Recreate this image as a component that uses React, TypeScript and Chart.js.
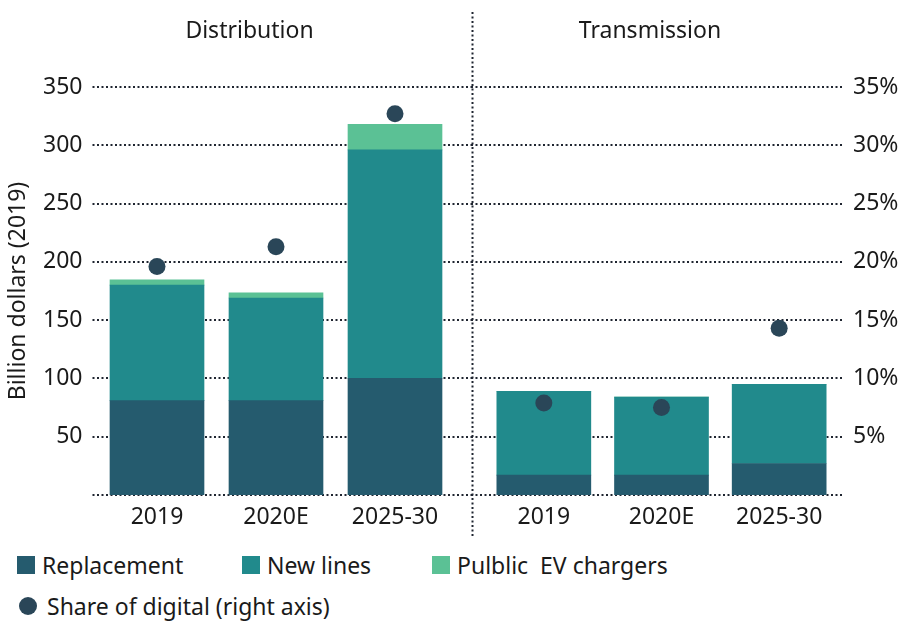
import React, { useEffect, useRef } from 'react';
import { Chart, registerables } from 'chart.js';

Chart.register(...registerables);

// ---------- data ----------
const categories = ['2019', '2020E', '2025-30'];
const groupTitles = ['Distribution', 'Transmission'];

const distReplacement = [81, 81, 100];
const distNewLines = [99, 88, 196];
const distEV = [4.5, 4.5, 22];
const distDigital = [19.6, 21.3, 32.7];

const transReplacement = [17, 17, 27];
const transNewLines = [72, 67, 68];
const transEV = [0, 0, 0];
const transDigital = [7.9, 7.5, 14.3];

const leftAxisMax = 350;
const leftAxisStep = 50;
const rightAxisMax = 35;
const rightAxisStep = 5;

const seriesLabels = ['Replacement', 'New lines', 'Pulblic  EV chargers', 'Share of digital (right axis)'];
const yAxisTitle = 'Billion dollars (2019)';

// ---------- styles ----------
const C_REPL = '#255b6e';
const C_NEW = '#218a8c';
const C_EV = '#5bc195';
const C_DOT = '#2a4658';
const TEXT = '#1a1a1a';
const GRID = '#1f2530';
const FONT = '"Noto Sans", "Open Sans", sans-serif';
const FS = 23;

const dotGridPlugin = {
  id: 'dotGrid',
  beforeDatasetsDraw(chart: any, _args: any, opts: any) {
    if (!opts || !opts.axis) return;
    const scale = chart.scales[opts.axis];
    const { ctx, chartArea } = chart;
    const x0 = opts.side === 'left' ? chartArea.left - 5 : 0;
    const x1 = opts.side === 'left' ? chart.width : chartArea.right + 5;
    ctx.save();
    ctx.strokeStyle = GRID;
    ctx.lineWidth = 2;
    ctx.setLineDash([2, 2.5]);
    scale.ticks.forEach((t: any) => {
      const y = Math.round(scale.getPixelForValue(t.value));
      ctx.beginPath();
      ctx.moveTo(x0, y);
      ctx.lineTo(x1, y);
      ctx.stroke();
    });
    if (opts.side === 'right') {
      ctx.beginPath();
      ctx.moveTo(1.5, 12);
      ctx.lineTo(1.5, chart.height - 7);
      ctx.stroke();
    }
    ctx.restore();
  },
};

const groupTitlePlugin = {
  id: 'groupTitle',
  afterDraw(chart: any, _args: any, opts: any) {
    if (!opts || !opts.text) return;
    const { ctx } = chart;
    ctx.save();
    ctx.font = `${FS}px ${FONT}`;
    ctx.fillStyle = TEXT;
    ctx.textAlign = 'center';
    ctx.textBaseline = 'middle';
    ctx.fillText(opts.text, opts.x, opts.y);
    ctx.restore();
  },
};

function makeDatasets(repl: number[], nl: number[], ev: number[], dig: number[]) {
  return [
    {
      type: 'line',
      label: seriesLabels[3],
      data: dig,
      yAxisID: 'y1',
      showLine: false,
      pointRadius: 8.5,
      pointHoverRadius: 8.5,
      pointBackgroundColor: C_DOT,
      pointBorderWidth: 0,
      order: 0,
    },
    { type: 'bar', label: seriesLabels[0], data: repl, backgroundColor: C_REPL, yAxisID: 'y', barThickness: 94, order: 1 },
    { type: 'bar', label: seriesLabels[1], data: nl, backgroundColor: C_NEW, yAxisID: 'y', barThickness: 94, order: 1 },
    { type: 'bar', label: seriesLabels[2], data: ev, backgroundColor: C_EV, yAxisID: 'y', barThickness: 94, order: 1 },
  ];
}

const xScale = {
  type: 'category',
  stacked: true,
  grid: { display: false, drawTicks: false },
  border: { display: false },
  ticks: { font: { family: FONT, size: FS }, color: TEXT, padding: 9, maxRotation: 0, minRotation: 0, autoSkip: false },
  afterFit: (s: any) => { s.height = 50; },
};

function ChartPanel({ side }: { side: 'left' | 'right' }) {
  const ref = useRef<HTMLCanvasElement>(null);
  useEffect(() => {
    if (!ref.current) return;
    const isLeft = side === 'left';
    const datasets = isLeft
      ? makeDatasets(distReplacement, distNewLines, distEV, distDigital)
      : makeDatasets(transReplacement, transNewLines, transEV, transDigital);
    const chart = new Chart(ref.current, {
      type: 'bar',
      data: { labels: categories, datasets: datasets as any },
      plugins: [dotGridPlugin, groupTitlePlugin],
      options: {
        responsive: false,
        animation: false,
        devicePixelRatio: 1,
        layout: {
          padding: isLeft
            ? { top: 87, right: 16.5, bottom: 0, left: 0 }
            : { top: 87, right: 0, bottom: 0, left: 14 },
        },
        plugins: {
          legend: { display: false },
          tooltip: { enabled: false },
          dotGrid: { axis: isLeft ? 'y' : 'y1', side },
          groupTitle: { text: isLeft ? groupTitles[0] : groupTitles[1], x: isLeft ? 249.5 : 179, y: 31 },
        } as any,
        scales: {
          x: xScale as any,
          y: {
            display: isLeft,
            stacked: true,
            min: 0,
            max: leftAxisMax,
            position: 'left',
            grid: { display: false, drawTicks: false },
            border: { display: false },
            ticks: {
              stepSize: leftAxisStep,
              font: { family: FONT, size: FS },
              color: TEXT,
              padding: 15,
              callback: (v: any) => (v === 0 ? '' : String(v)),
            },
            title: {
              display: true,
              text: yAxisTitle,
              font: { family: FONT, size: FS },
              color: TEXT,
              padding: { top: 5, bottom: 0 },
            },
            afterFit: (s: any) => { s.width = isLeft ? 97.5 : 0; },
          },
          y1: {
            display: !isLeft,
            position: 'right',
            min: 0,
            max: rightAxisMax,
            grid: { display: false, drawTicks: false },
            border: { display: false },
            ticks: {
              stepSize: rightAxisStep,
              font: { family: FONT, size: FS },
              color: TEXT,
              padding: 15,
              callback: (v: any) => (v === 0 ? '' : `${v}%`),
            },
            afterFit: (s: any) => { s.width = isLeft ? 0 : 61; },
          },
        } as any,
      },
    });
    return () => chart.destroy();
  }, [side]);
  const w = side === 'left' ? 471 : 428;
  return (
    <canvas
      ref={ref}
      width={w}
      height={545}
      style={{ position: 'absolute', top: 0, left: side === 'left' ? 0 : 471, width: w, height: 545 }}
    />
  );
}

export default function App() {
  useEffect(() => {
    document.body.style.margin = '0';
    document.body.style.overflow = 'hidden';
  }, []);
  const txt: React.CSSProperties = { fontFamily: FONT, fontSize: FS, color: TEXT, lineHeight: '28px', whiteSpace: 'pre' };
  const sq = (c: string): React.CSSProperties => ({ width: 18, height: 18, background: c, marginRight: 7, flex: 'none' });
  return (
    <div style={{ position: 'relative', width: 899, height: 621, overflow: 'hidden', background: '#fff' }}>
      <ChartPanel side="left" />
      <ChartPanel side="right" />
      <div style={{ position: 'absolute', left: 17, top: 551, display: 'flex', alignItems: 'center' }}>
        <div style={sq(C_REPL)} />
        <span style={txt}>{seriesLabels[0]}</span>
      </div>
      <div style={{ position: 'absolute', left: 242, top: 551, display: 'flex', alignItems: 'center' }}>
        <div style={sq(C_NEW)} />
        <span style={txt}>{seriesLabels[1]}</span>
      </div>
      <div style={{ position: 'absolute', left: 432, top: 551, display: 'flex', alignItems: 'center' }}>
        <div style={sq(C_EV)} />
        <span style={txt}>{seriesLabels[2]}</span>
      </div>
      <div style={{ position: 'absolute', left: 19, top: 592, display: 'flex', alignItems: 'center' }}>
        <div style={{ width: 18, height: 18, borderRadius: '50%', background: C_DOT, marginRight: 10, flex: 'none' }} />
        <span style={txt}>{seriesLabels[3]}</span>
      </div>
    </div>
  );
}
